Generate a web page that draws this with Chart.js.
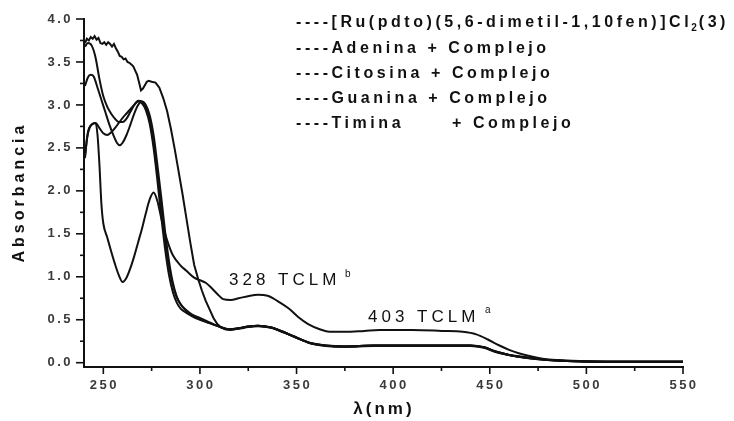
<!DOCTYPE html>
<html>
<head>
<meta charset="utf-8">
<script src="https://cdn.jsdelivr.net/npm/chart.js@4.4.1/dist/chart.umd.min.js"></script>
<style>
  html, body { margin: 0; padding: 0; background: #fff; }
  #wrap { width: 734px; height: 421px; }
</style>
</head>
<body>
<div id="wrap"><canvas id="spectra" width="734" height="421"></canvas></div>
<script>
// Wavelengths (nm) and absorbances, one pair of arrays per curve
const wlComplejo = [240.5, 242, 244, 246, 247, 248, 249, 250, 252, 254, 256, 258, 260, 262, 264, 266, 268, 270, 272, 274, 276, 278, 280, 282, 284, 286, 290, 293, 297, 300, 303, 306, 309, 312, 316, 320, 326, 330, 335, 340, 346, 351, 356, 362, 367, 375, 385, 393, 410, 425, 436, 443, 449, 455, 460, 465, 470, 479, 490, 505, 550];
const absComplejo = [2.40, 2.68, 2.77, 2.79, 2.65, 2.30, 1.85, 1.62, 1.46, 1.30, 1.15, 1.02, 0.94, 0.99, 1.10, 1.24, 1.40, 1.56, 1.74, 1.90, 1.98, 1.88, 1.68, 1.50, 1.36, 1.25, 1.13, 1.07, 0.99, 0.96, 0.93, 0.87, 0.80, 0.74, 0.73, 0.75, 0.78, 0.79, 0.78, 0.72, 0.63, 0.53, 0.45, 0.39, 0.36, 0.36, 0.37, 0.38, 0.38, 0.37, 0.36, 0.33, 0.27, 0.20, 0.15, 0.11, 0.08, 0.04, 0.025, 0.012, 0.01];

const wlAdenina = [240.5, 242, 244, 246, 248, 250, 252, 254, 256, 258, 260, 262, 264, 266, 268, 270, 272, 274, 276, 278, 280, 282, 284, 286, 288, 290, 293, 296, 300, 305, 310, 315, 320, 325, 330, 337, 343, 350, 357, 365, 375, 390, 405, 420, 440, 447, 453, 460, 470, 480, 490, 510, 550];
const absAdenina = [3.68, 3.72, 3.69, 3.55, 3.30, 3.10, 2.98, 2.90, 2.84, 2.80, 2.80, 2.84, 2.92, 3.00, 3.05, 3.04, 2.97, 2.82, 2.55, 2.20, 1.80, 1.42, 1.12, 0.90, 0.76, 0.68, 0.61, 0.56, 0.52, 0.47, 0.42, 0.39, 0.40, 0.42, 0.43, 0.41, 0.36, 0.29, 0.23, 0.20, 0.19, 0.20, 0.20, 0.20, 0.20, 0.18, 0.13, 0.09, 0.055, 0.032, 0.02, 0.012, 0.01];

const wlCitosina = [240.5, 242, 243.5, 245, 247, 249, 251, 253, 255, 257, 258.5, 260, 262, 264, 266, 268, 270, 272, 274, 276, 278, 280, 282, 284, 286, 288, 290, 293, 296, 300, 305, 310, 315, 320, 325, 330, 337, 343, 350, 357, 365, 375, 390, 405, 420, 440, 447, 453, 460, 470, 480, 490, 510, 550];
const absCitosina = [3.22, 3.32, 3.35, 3.33, 3.20, 3.06, 2.92, 2.78, 2.66, 2.56, 2.53, 2.56, 2.65, 2.77, 2.90, 3.00, 3.04, 3.00, 2.88, 2.65, 2.30, 1.92, 1.52, 1.18, 0.93, 0.77, 0.68, 0.60, 0.55, 0.51, 0.46, 0.42, 0.385, 0.395, 0.415, 0.425, 0.405, 0.355, 0.295, 0.225, 0.195, 0.185, 0.195, 0.195, 0.195, 0.195, 0.175, 0.125, 0.088, 0.052, 0.03, 0.019, 0.011, 0.01];

const wlGuanina = [240.5, 241.5, 242.5, 243.5, 244.5, 245.5, 246.5, 247.5, 248.5, 249.5, 250.5, 251.5, 252.5, 253.5, 254.5, 255.5, 256.5, 257.5, 258.5, 259.5, 260.5, 261.5, 262.5, 263.5, 264.5, 265.5, 266.5, 267.5, 268.5, 269.5, 270.5, 271.5, 272.5, 273.5, 275, 277, 279, 281, 283, 285, 287, 289, 291, 293, 295, 297, 299, 301, 303, 305, 307, 309, 311, 313, 316, 320, 325, 330, 337, 343, 350, 357, 365, 375, 390, 405, 420, 440, 447, 453, 460, 470, 480, 490, 510, 530, 550];
const absGuanina = [3.72, 3.77, 3.75, 3.79, 3.77, 3.80, 3.76, 3.78, 3.72, 3.71, 3.73, 3.70, 3.73, 3.71, 3.68, 3.71, 3.66, 3.62, 3.57, 3.56, 3.53, 3.54, 3.50, 3.49, 3.47, 3.45, 3.40, 3.35, 3.26, 3.17, 3.19, 3.23, 3.27, 3.28, 3.27, 3.26, 3.20, 3.08, 2.93, 2.72, 2.48, 2.22, 1.96, 1.68, 1.40, 1.14, 0.98, 0.84, 0.72, 0.62, 0.52, 0.45, 0.41, 0.39, 0.38, 0.40, 0.42, 0.43, 0.41, 0.36, 0.29, 0.23, 0.20, 0.19, 0.20, 0.20, 0.20, 0.20, 0.18, 0.13, 0.09, 0.06, 0.035, 0.02, 0.012, 0.01, 0.01];

const wlTimina = [240.5, 241.5, 243, 244.5, 246, 248, 250, 252, 254, 256, 258, 260, 262, 264, 266, 268, 270, 272, 274, 276, 278, 280, 282, 284, 286, 288, 290, 293, 296, 300, 305, 310, 315, 320, 325, 330, 337, 343, 350, 357, 365, 375, 390, 405, 420, 440, 447, 453, 460, 470, 480, 490, 510, 550];
const absTimina = [2.38, 2.60, 2.74, 2.78, 2.79, 2.73, 2.67, 2.65, 2.68, 2.73, 2.79, 2.85, 2.90, 2.95, 3.00, 3.04, 3.02, 2.94, 2.78, 2.50, 2.12, 1.70, 1.32, 1.02, 0.82, 0.70, 0.63, 0.58, 0.54, 0.50, 0.46, 0.42, 0.39, 0.40, 0.42, 0.43, 0.41, 0.36, 0.29, 0.23, 0.20, 0.19, 0.20, 0.20, 0.20, 0.20, 0.18, 0.13, 0.09, 0.055, 0.032, 0.02, 0.012, 0.01];

const seriesNames = [
    '----[Ru(pdto)(5,6-dimetil-1,10fen)]Cl',
    '----Adenina + Complejo',
    '----Citosina + Complejo',
    '----Guanina + Complejo',
    '----Timina      + Complejo'
];

// Axis ticks
const xTicks = [250, 300, 350, 400, 450, 500, 550];
const xMinorTicks = [275, 325, 375, 425, 475, 525];
const yTicks = [0.0, 0.5, 1.0, 1.5, 2.0, 2.5, 3.0, 3.5, 4.0];
const yMinorTicks = [0.25, 0.75, 1.25, 1.75, 2.25, 2.75, 3.25, 3.75];

const FONT = '"Liberation Sans", Arial, sans-serif';

function toPoints(wl, abs) {
    return wl.map((w, i) => ({ x: w, y: abs[i] }));
}

function makeSet(label, wl, abs, tension) {
    return {
        label: label,
        data: toPoints(wl, abs),
        borderColor: '#111',
        borderWidth: 2,
        pointRadius: 0,
        tension: tension,
        cubicInterpolationMode: tension ? 'monotone' : 'default'
    };
}

// Draws the outside ticks, tick labels, axis titles, legend text and band labels
const decorations = {
    id: 'decorations',
    afterDraw(chart) {
        const ctx = chart.ctx;
        const xs = chart.scales.x;
        const ys = chart.scales.y;
        const left = chart.chartArea.left;
        const bottom = chart.chartArea.bottom;
        ctx.save();
        ctx.strokeStyle = '#111';
        ctx.lineWidth = 1.6;

        // y ticks
        yTicks.forEach(v => {
            const py = ys.getPixelForValue(v);
            ctx.beginPath(); ctx.moveTo(left - 8, py); ctx.lineTo(left, py); ctx.stroke();
        });
        yMinorTicks.forEach(v => {
            const py = ys.getPixelForValue(v);
            ctx.beginPath(); ctx.moveTo(left - 4, py); ctx.lineTo(left, py); ctx.stroke();
        });
        // x ticks
        xTicks.forEach(v => {
            const px = xs.getPixelForValue(v);
            ctx.beginPath(); ctx.moveTo(px, bottom); ctx.lineTo(px, bottom + 7); ctx.stroke();
        });
        xMinorTicks.forEach(v => {
            const px = xs.getPixelForValue(v);
            ctx.beginPath(); ctx.moveTo(px, bottom); ctx.lineTo(px, bottom + 4); ctx.stroke();
        });

        // tick labels
        ctx.fillStyle = '#3a3a3a';
        ctx.font = 'bold 13px ' + FONT;
        ctx.letterSpacing = '2.5px';
        ctx.textBaseline = 'middle';
        ctx.textAlign = 'right';
        yTicks.forEach(v => {
            ctx.fillText(v.toFixed(1), left - 11, ys.getPixelForValue(v));
        });
        ctx.textAlign = 'center';
        xTicks.forEach(v => {
            ctx.fillText(String(v), xs.getPixelForValue(v) + 1, bottom + 18);
        });

        // axis titles
        ctx.fillStyle = '#111';
        ctx.font = 'bold 16px ' + FONT;
        ctx.letterSpacing = '4px';
        ctx.save();
        ctx.translate(20, 192);
        ctx.rotate(-Math.PI / 2);
        ctx.fillText('Absorbancia', 0, 0);
        ctx.restore();
        ctx.font = 'bold 17px ' + FONT;
        ctx.letterSpacing = '3px';
        ctx.fillText('\u03bb(nm)', 384, 409);

        // legend text
        ctx.textAlign = 'left';
        ctx.textBaseline = 'alphabetic';
        ctx.font = 'bold 16px ' + FONT;
        ctx.letterSpacing = '3.55px';
        const rows = [27, 53, 78, 103, 128];
        seriesNames.forEach((name, i) => {
            ctx.fillText(name, 296, rows[i]);
        });
        let endX = 296 + ctx.measureText(seriesNames[0]).width;
        ctx.font = 'bold 10px ' + FONT;
        ctx.letterSpacing = '1px';
        ctx.fillText('2', endX - 1, rows[0] + 4);
        endX += ctx.measureText('2').width;
        ctx.font = 'bold 16px ' + FONT;
        ctx.letterSpacing = '3.55px';
        ctx.fillText('(3)', endX, rows[0]);

        // band labels
        ctx.font = '17px ' + FONT;
        ctx.letterSpacing = '4px';
        ctx.fillText('328 TCLM', 229, 285);
        ctx.fillText('403 TCLM', 368, 322);
        ctx.font = '10px ' + FONT;
        ctx.letterSpacing = '0px';
        ctx.fillText('b', 345, 277);
        ctx.fillText('a', 485, 313);
        ctx.restore();
    }
};

const ctxSpectra = document.getElementById('spectra').getContext('2d');
const spectraChart = new Chart(ctxSpectra, {
    type: 'line',
    data: {
        datasets: [
            makeSet(seriesNames[0], wlComplejo, absComplejo, 0.4),
            makeSet(seriesNames[1], wlAdenina, absAdenina, 0.4),
            makeSet(seriesNames[2], wlCitosina, absCitosina, 0.4),
            makeSet(seriesNames[3], wlGuanina, absGuanina, 0),
            makeSet(seriesNames[4], wlTimina, absTimina, 0.4)
        ]
    },
    options: {
        responsive: false,
        animation: false,
        devicePixelRatio: 1,
        layout: { padding: { left: 0, right: 51, top: 19, bottom: 0 } },
        plugins: {
            legend: { display: false },
            tooltip: { enabled: false }
        },
        scales: {
            x: {
                type: 'linear',
                min: 240,
                max: 550,
                grid: { display: false },
                border: { display: true, color: '#111', width: 2 },
                ticks: { display: false },
                afterFit(scale) { scale.height = 54; }
            },
            y: {
                type: 'linear',
                min: -0.05,
                max: 4.0,
                grid: { display: false },
                border: { display: true, color: '#111', width: 2 },
                ticks: { display: false },
                afterFit(scale) { scale.width = 84; }
            }
        }
    },
    plugins: [decorations]
});
</script>
</body>
</html>
